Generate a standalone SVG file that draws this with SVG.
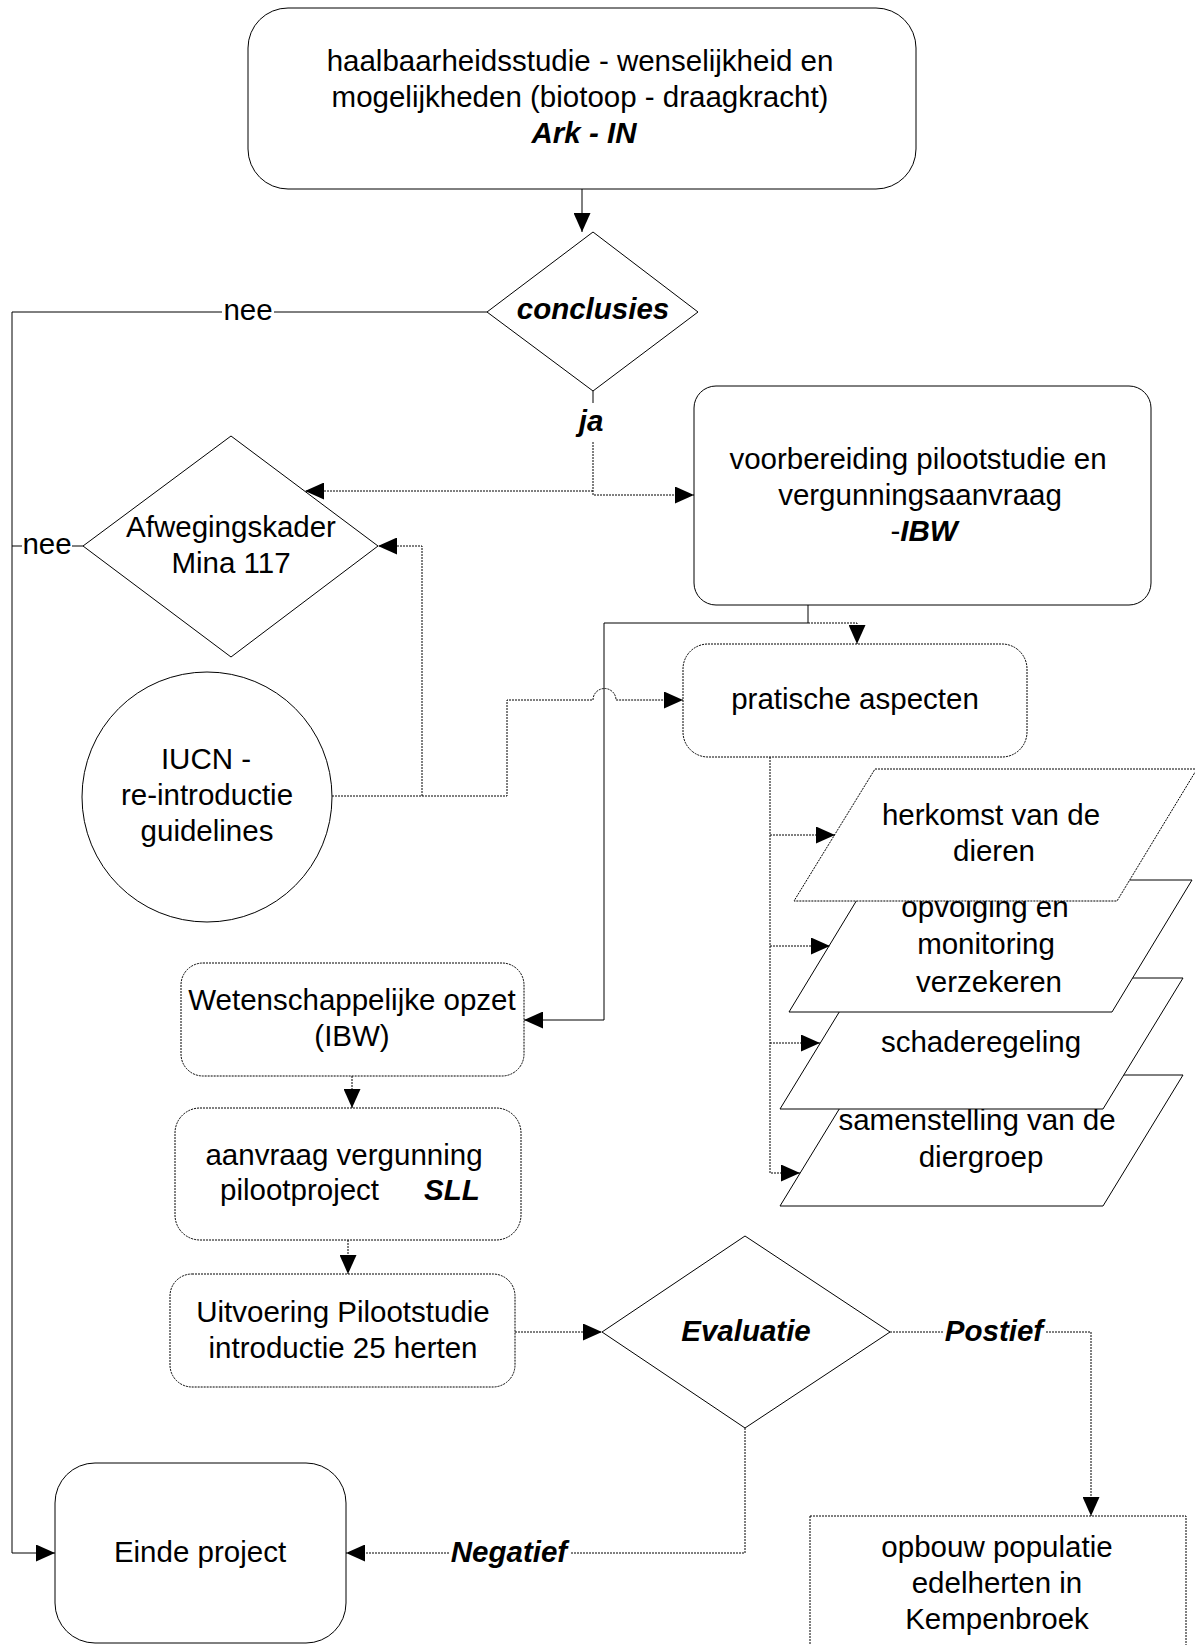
<svg xmlns="http://www.w3.org/2000/svg" width="1195" height="1645" viewBox="0 0 1195 1645">
<defs>
<style>
.n{fill:#fff;stroke:#000;stroke-width:1}
.nd{fill:#fff;stroke:#000;stroke-width:1;stroke-dasharray:2 1}
.s{fill:none;stroke:#000;stroke-width:1}
.d{fill:none;stroke:#000;stroke-width:1;stroke-dasharray:2 1}
.t{font-family:"Liberation Sans",Arial,sans-serif;font-size:29.5px;text-anchor:middle;fill:#000}
.b{font-weight:bold;font-style:italic}
</style>
<marker id="ah" markerUnits="userSpaceOnUse" markerWidth="19" markerHeight="17" refX="19" refY="8.5" orient="auto" viewBox="0 0 19 17">
<path d="M0,0 L19,8.5 L0,17 z" fill="#000"/>
</marker>
</defs>
<rect width="1195" height="1645" fill="#fff"/>

<g id="haalbaarheidsstudie">
<rect class="n" x="248" y="8" width="668" height="181" rx="40"/>
<text class="t" x="580" y="71">haalbaarheidsstudie - wenselijkheid en</text>
<text class="t" x="580" y="107">mogelijkheden (biotoop - draagkracht)</text>
<text class="t b" x="584" y="143">Ark - IN</text>
</g>

<g id="conclusies">
<polygon class="n" points="593,232 698,312 593,391 487,312"/>
<text class="t b" x="593" y="319">conclusies</text>
</g>

<g id="voorbereiding">
<rect class="n" x="694" y="386" width="457" height="219" rx="22"/>
<text class="t" x="918" y="469">voorbereiding pilootstudie en</text>
<text class="t" x="920" y="505">vergunningsaanvraag</text>
<text class="t" x="924" y="541">-<tspan class="b">IBW</tspan></text>
</g>

<g id="afwegingskader">
<polygon class="n" points="231,436 378,546 231,657 83,546"/>
<text class="t" x="231" y="537">Afwegingskader</text>
<text class="t" x="231" y="573">Mina 117</text>
</g>

<g id="iucn">
<circle class="n" cx="207" cy="797" r="125"/>
<text class="t" x="206" y="769">IUCN -</text>
<text class="t" x="207" y="805">re-introductie</text>
<text class="t" x="207" y="841">guidelines</text>
</g>

<g id="pratische">
<rect class="nd" x="683" y="644" width="344" height="113" rx="25"/>
<text class="t" x="855" y="709">pratische aspecten</text>
</g>

<g id="samenstelling">
<polygon class="n" points="860,1075 1183,1075 1103,1206 780,1206"/>
<text class="t" x="977" y="1130">samenstelling van de</text>
<text class="t" x="981" y="1167">diergroep</text>
</g>

<g id="schaderegeling">
<polygon class="n" points="860,978 1183,978 1103,1109 780,1109"/>
<text class="t" x="981" y="1052">schaderegeling</text>
</g>

<g id="opvolging">
<polygon class="n" points="869,880 1192,880 1112,1012 789,1012"/>
<text class="t" x="985" y="917">opvolging en</text>
<text class="t" x="986" y="954">monitoring</text>
<text class="t" x="989" y="992">verzekeren</text>
</g>

<g id="herkomst">
<polygon class="nd" points="875,769 1197,769 1117,901 794,901"/>
<text class="t" x="991" y="825">herkomst van de</text>
<text class="t" x="994" y="861">dieren</text>
</g>

<g id="wetenschappelijke">
<rect class="nd" x="181" y="963" width="343" height="113" rx="22"/>
<text class="t" x="352" y="1010">Wetenschappelijke opzet</text>
<text class="t" x="352" y="1046">(IBW)</text>
</g>

<g id="aanvraag">
<rect class="nd" x="175" y="1108" width="346" height="132" rx="25"/>
<text class="t" x="344" y="1165">aanvraag vergunning</text>
<text class="t" x="220" y="1200" style="text-anchor:start">pilootproject</text>
<text class="t b" x="424" y="1200" style="text-anchor:start">SLL</text>
</g>

<g id="uitvoering">
<rect class="nd" x="170" y="1274" width="345" height="113" rx="22"/>
<text class="t" x="343" y="1322">Uitvoering Pilootstudie</text>
<text class="t" x="343" y="1358">introductie 25 herten</text>
</g>

<g id="evaluatie">
<polygon class="n" points="745,1236 890,1332 745,1428 602,1332"/>
<text class="t b" x="746" y="1341">Evaluatie</text>
</g>

<g id="einde">
<rect class="n" x="55" y="1463" width="291" height="180" rx="40"/>
<text class="t" x="200" y="1562">Einde project</text>
</g>

<g id="opbouw">
<rect class="nd" x="810" y="1516" width="376" height="150"/>
<text class="t" x="997" y="1557">opbouw populatie</text>
<text class="t" x="997" y="1593">edelherten in</text>
<text class="t" x="997" y="1629">Kempenbroek</text>
</g>

<g id="connectors">
<path class="s" d="M582,189 V232" marker-end="url(#ah)"/>
<path class="s" d="M487,312 H274"/>
<path class="s" d="M222,312 H12 V1553 H55" marker-end="url(#ah)"/>
<text class="t" x="248" y="320">nee</text>
<path class="s" d="M83,546 H72"/>
<path class="s" d="M22,546 H12"/>
<text class="t" x="47" y="554">nee</text>
<path class="s" d="M593,391 V403"/>
<text class="t b" x="591" y="431">ja</text>
<path class="d" d="M593,442 V495 H694" marker-end="url(#ah)"/>
<path class="d" d="M593,491 H305" marker-end="url(#ah)"/>
<path class="d" d="M332,796 H507 V700 H593 A11.5,11.5 0 0 1 616,700 H683" marker-end="url(#ah)"/>
<path class="d" d="M422,796 V546 H378" marker-end="url(#ah)"/>
<path class="s" d="M808,605 V623 H604 V1020 H524" marker-end="url(#ah)"/>
<path class="d" d="M808,623 H857 V644" marker-end="url(#ah)"/>
<path class="d" d="M770,757 V1173 H800" marker-end="url(#ah)"/>
<path class="d" d="M770,835 H835" marker-end="url(#ah)"/>
<path class="d" d="M770,946 H830" marker-end="url(#ah)"/>
<path class="d" d="M770,1043 H820" marker-end="url(#ah)"/>
<path class="d" d="M352,1076 V1108" marker-end="url(#ah)"/>
<path class="d" d="M348,1240 V1274" marker-end="url(#ah)"/>
<path class="d" d="M515,1332 H602" marker-end="url(#ah)"/>
<path class="d" d="M890,1332 H943"/>
<path class="d" d="M1046,1332 H1091 V1516" marker-end="url(#ah)"/>
<text class="t b" x="994" y="1341">Postief</text>
<path class="d" d="M745,1428 V1553 H570"/>
<path class="d" d="M449,1553 H346" marker-end="url(#ah)"/>
<text class="t b" x="509" y="1562">Negatief</text>
</g>
</svg>
